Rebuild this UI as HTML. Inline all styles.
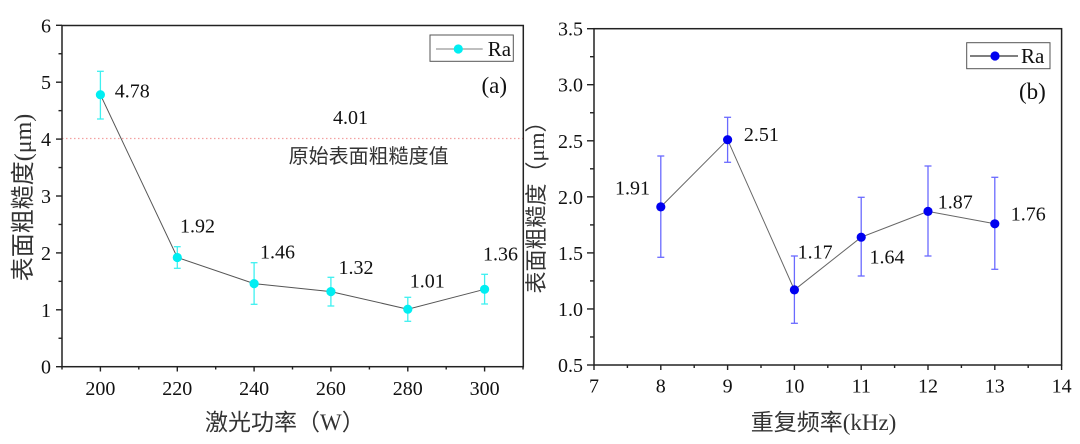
<!DOCTYPE html>
<html><head><meta charset="utf-8">
<style>
html,body{margin:0;padding:0;background:#fff;}
svg{display:block;}
text{font-family:"Liberation Serif","Noto Serif CJK SC","Noto Sans CJK SC",serif;}
.cjk{font-family:"Liberation Serif","Noto Sans CJK SC",sans-serif;}
</style></head>
<body>
<svg width="1080" height="444" viewBox="0 0 1080 444" xmlns="http://www.w3.org/2000/svg">
<rect width="1080" height="444" fill="#fff"/>

<!-- ===== LEFT CHART ===== -->
<line x1="62" y1="138.5" x2="523" y2="138.5" stroke="#f3a0a0" stroke-width="1.3" stroke-dasharray="1.5,2.5"/>
<rect x="62" y="25.5" width="461.3" height="341.2" fill="none" stroke="#222" stroke-width="1.5"/>
<g stroke="#222" stroke-width="1.4">
<line x1="56" y1="366.7" x2="62" y2="366.7"/><line x1="56" y1="309.8" x2="62" y2="309.8"/>
<line x1="56" y1="252.9" x2="62" y2="252.9"/><line x1="56" y1="196" x2="62" y2="196"/>
<line x1="56" y1="139.1" x2="62" y2="139.1"/><line x1="56" y1="82.2" x2="62" y2="82.2"/>
<line x1="56" y1="25.3" x2="62" y2="25.3"/>
<line x1="58.5" y1="338.25" x2="62" y2="338.25"/><line x1="58.5" y1="281.35" x2="62" y2="281.35"/>
<line x1="58.5" y1="224.45" x2="62" y2="224.45"/><line x1="58.5" y1="167.55" x2="62" y2="167.55"/>
<line x1="58.5" y1="110.65" x2="62" y2="110.65"/><line x1="58.5" y1="53.75" x2="62" y2="53.75"/>
<line x1="100.4" y1="366.7" x2="100.4" y2="371.5"/><line x1="177.3" y1="366.7" x2="177.3" y2="371.5"/>
<line x1="254.1" y1="366.7" x2="254.1" y2="371.5"/><line x1="330.9" y1="366.7" x2="330.9" y2="371.5"/>
<line x1="407.8" y1="366.7" x2="407.8" y2="371.5"/><line x1="484.6" y1="366.7" x2="484.6" y2="371.5"/>
<line x1="62" y1="366.7" x2="62" y2="369.5"/><line x1="138.8" y1="366.7" x2="138.8" y2="369.5"/>
<line x1="215.7" y1="366.7" x2="215.7" y2="369.5"/><line x1="292.5" y1="366.7" x2="292.5" y2="369.5"/>
<line x1="369.4" y1="366.7" x2="369.4" y2="369.5"/><line x1="446.2" y1="366.7" x2="446.2" y2="369.5"/>
<line x1="523" y1="366.7" x2="523" y2="369.5"/>
</g>
<g font-family="Liberation Serif, serif" font-size="20" fill="#111" text-anchor="end">
<text x="51" y="373.7">0</text><text x="51" y="316.8">1</text><text x="51" y="259.9">2</text>
<text x="51" y="203">3</text><text x="51" y="146.1">4</text><text x="51" y="89.2">5</text><text x="51" y="32.3">6</text>
</g>
<g font-family="Liberation Serif, serif" font-size="20" fill="#111" text-anchor="middle">
<text x="100.4" y="395">200</text><text x="177.3" y="395">220</text><text x="254.1" y="395">240</text>
<text x="330.9" y="395">260</text><text x="407.8" y="395">280</text><text x="484.6" y="395">300</text>
</g>
<text class="cjk" x="205" y="430" font-size="23" fill="#333">激光功率（W）</text>
<text class="cjk" transform="translate(31,197.5) rotate(-90)" text-anchor="middle" font-size="24" fill="#333">表面粗糙度(μm)</text>

<g stroke="#3ef0f0" stroke-width="1.3">
<line x1="100.4" y1="71.3" x2="100.4" y2="119"/><line x1="97" y1="71.3" x2="103.8" y2="71.3"/><line x1="97" y1="119" x2="103.8" y2="119"/>
<line x1="177.3" y1="246.7" x2="177.3" y2="268.3"/><line x1="173.9" y1="246.7" x2="180.7" y2="246.7"/><line x1="173.9" y1="268.3" x2="180.7" y2="268.3"/>
<line x1="254.1" y1="262.7" x2="254.1" y2="304.3"/><line x1="250.7" y1="262.7" x2="257.5" y2="262.7"/><line x1="250.7" y1="304.3" x2="257.5" y2="304.3"/>
<line x1="330.9" y1="277.3" x2="330.9" y2="306"/><line x1="327.5" y1="277.3" x2="334.3" y2="277.3"/><line x1="327.5" y1="306" x2="334.3" y2="306"/>
<line x1="407.8" y1="297.3" x2="407.8" y2="321.3"/><line x1="404.4" y1="297.3" x2="411.2" y2="297.3"/><line x1="404.4" y1="321.3" x2="411.2" y2="321.3"/>
<line x1="484.6" y1="274.3" x2="484.6" y2="304"/><line x1="481.2" y1="274.3" x2="488" y2="274.3"/><line x1="481.2" y1="304" x2="488" y2="304"/>
</g>
<polyline points="100.4,94.7 177.3,257.45 254.1,283.6 330.9,291.6 407.8,309.2 484.6,289.3" fill="none" stroke="#555" stroke-width="1"/>
<g fill="#00eef2">
<circle cx="100.4" cy="94.7" r="4.6"/><circle cx="177.3" cy="257.45" r="4.6"/><circle cx="254.1" cy="283.6" r="4.6"/>
<circle cx="330.9" cy="291.6" r="4.6"/><circle cx="407.8" cy="309.2" r="4.6"/><circle cx="484.6" cy="289.3" r="4.6"/>
</g>
<g font-family="Liberation Serif, serif" font-size="20" fill="#111">
<text x="114.7" y="97.7">4.78</text><text x="180" y="232.7">1.92</text><text x="260" y="258.7">1.46</text>
<text x="338.5" y="274">1.32</text><text x="409.8" y="287.3">1.01</text><text x="483" y="260.7">1.36</text>
<text x="333" y="124">4.01</text>
</g>
<text class="cjk" x="288.6" y="163" font-size="20" fill="#333">原始表面粗糙度值</text>
<text font-family="Liberation Serif, serif" x="481.5" y="93" font-size="23" fill="#111">(a)</text>
<rect x="430" y="35" width="83.3" height="26.3" fill="#fff" stroke="#555" stroke-width="1"/>
<line x1="436" y1="49" x2="482.7" y2="49" stroke="#999" stroke-width="1.2"/>
<circle cx="458.3" cy="49" r="4.6" fill="#00eef2"/>
<text font-family="Liberation Serif, serif" x="487.7" y="56" font-size="21" fill="#111">Ra</text>

<!-- ===== RIGHT CHART ===== -->
<rect x="594" y="28.7" width="467.6" height="336.3" fill="none" stroke="#222" stroke-width="1.5"/>
<g stroke="#222" stroke-width="1.4">
<line x1="587" y1="365" x2="594" y2="365"/><line x1="587" y1="308.95" x2="594" y2="308.95"/>
<line x1="587" y1="252.9" x2="594" y2="252.9"/><line x1="587" y1="196.85" x2="594" y2="196.85"/>
<line x1="587" y1="140.8" x2="594" y2="140.8"/><line x1="587" y1="84.7" x2="594" y2="84.7"/>
<line x1="587" y1="28.7" x2="594" y2="28.7"/>
<line x1="590" y1="336.975" x2="594" y2="336.975"/><line x1="590" y1="280.9" x2="594" y2="280.9"/>
<line x1="590" y1="224.9" x2="594" y2="224.9"/><line x1="590" y1="168.8" x2="594" y2="168.8"/>
<line x1="590" y1="112.75" x2="594" y2="112.75"/><line x1="590" y1="56.7" x2="594" y2="56.7"/>
<line x1="594" y1="365" x2="594" y2="370"/><line x1="660.8" y1="365" x2="660.8" y2="370"/>
<line x1="727.6" y1="365" x2="727.6" y2="370"/><line x1="794.4" y1="365" x2="794.4" y2="370"/>
<line x1="861.2" y1="365" x2="861.2" y2="370"/><line x1="928" y1="365" x2="928" y2="370"/>
<line x1="994.8" y1="365" x2="994.8" y2="370"/><line x1="1061.6" y1="365" x2="1061.6" y2="370"/>
<line x1="627.4" y1="365" x2="627.4" y2="368"/><line x1="694.2" y1="365" x2="694.2" y2="368"/>
<line x1="761" y1="365" x2="761" y2="368"/><line x1="827.8" y1="365" x2="827.8" y2="368"/>
<line x1="894.6" y1="365" x2="894.6" y2="368"/><line x1="961.4" y1="365" x2="961.4" y2="368"/>
<line x1="1028.2" y1="365" x2="1028.2" y2="368"/>
</g>
<g font-family="Liberation Serif, serif" font-size="20" fill="#111" text-anchor="end">
<text x="583" y="372">0.5</text><text x="583" y="316">1.0</text><text x="583" y="259.9">1.5</text>
<text x="583" y="203.9">2.0</text><text x="583" y="147.8">2.5</text><text x="583" y="91.7">3.0</text><text x="583" y="35.7">3.5</text>
</g>
<g font-family="Liberation Serif, serif" font-size="20" fill="#111" text-anchor="middle">
<text x="594" y="392.5">7</text><text x="660.8" y="392.5">8</text><text x="727.6" y="392.5">9</text>
<text x="794.4" y="392.5">10</text><text x="861.2" y="392.5">11</text><text x="928" y="392.5">12</text>
<text x="994.8" y="392.5">13</text><text x="1061.6" y="392.5">14</text>
</g>
<text class="cjk" x="750.7" y="430" font-size="23" fill="#333">重复频率(kHz)</text>
<text class="cjk" transform="translate(544,202) rotate(-90)" text-anchor="middle" font-size="22" fill="#333">表面粗糙度（μm）</text>

<g stroke="#6a6aff" stroke-width="1.3">
<line x1="660.8" y1="156" x2="660.8" y2="257.3"/><line x1="657.3" y1="156" x2="664.3" y2="156"/><line x1="657.3" y1="257.3" x2="664.3" y2="257.3"/>
<line x1="727.6" y1="117.3" x2="727.6" y2="162.3"/><line x1="724.1" y1="117.3" x2="731.1" y2="117.3"/><line x1="724.1" y1="162.3" x2="731.1" y2="162.3"/>
<line x1="794.4" y1="256" x2="794.4" y2="323.3"/><line x1="790.9" y1="256" x2="797.9" y2="256"/><line x1="790.9" y1="323.3" x2="797.9" y2="323.3"/>
<line x1="861.2" y1="197.3" x2="861.2" y2="276"/><line x1="857.7" y1="197.3" x2="864.7" y2="197.3"/><line x1="857.7" y1="276" x2="864.7" y2="276"/>
<line x1="928" y1="166" x2="928" y2="256"/><line x1="924.5" y1="166" x2="931.5" y2="166"/><line x1="924.5" y1="256" x2="931.5" y2="256"/>
<line x1="994.8" y1="177.3" x2="994.8" y2="269.3"/><line x1="991.3" y1="177.3" x2="998.3" y2="177.3"/><line x1="991.3" y1="269.3" x2="998.3" y2="269.3"/>
</g>
<polyline points="660.8,206.9 727.6,139.7 794.4,289.9 861.2,237.2 928,211.4 994.8,223.8" fill="none" stroke="#666" stroke-width="1"/>
<g fill="#0000f0">
<circle cx="660.8" cy="206.9" r="4.6"/><circle cx="727.6" cy="139.7" r="4.6"/><circle cx="794.4" cy="289.9" r="4.6"/>
<circle cx="861.2" cy="237.2" r="4.6"/><circle cx="928" cy="211.4" r="4.6"/><circle cx="994.8" cy="223.8" r="4.6"/>
</g>
<g font-family="Liberation Serif, serif" font-size="20" fill="#111">
<text x="615" y="194.3">1.91</text><text x="743.9" y="141">2.51</text><text x="797.6" y="258.3">1.17</text>
<text x="869.5" y="263.3">1.64</text><text x="937.7" y="208.3">1.87</text><text x="1010.7" y="220.7">1.76</text>
</g>
<text font-family="Liberation Serif, serif" x="1019" y="99" font-size="23" fill="#111">(b)</text>
<rect x="966.7" y="42.7" width="83.3" height="26" fill="#fff" stroke="#555" stroke-width="1"/>
<line x1="970" y1="56" x2="1018" y2="56" stroke="#333" stroke-width="1.2"/>
<circle cx="995" cy="56" r="4.6" fill="#0000f0"/>
<text font-family="Liberation Serif, serif" x="1021" y="63" font-size="21" fill="#111">Ra</text>
</svg>
</body></html>
